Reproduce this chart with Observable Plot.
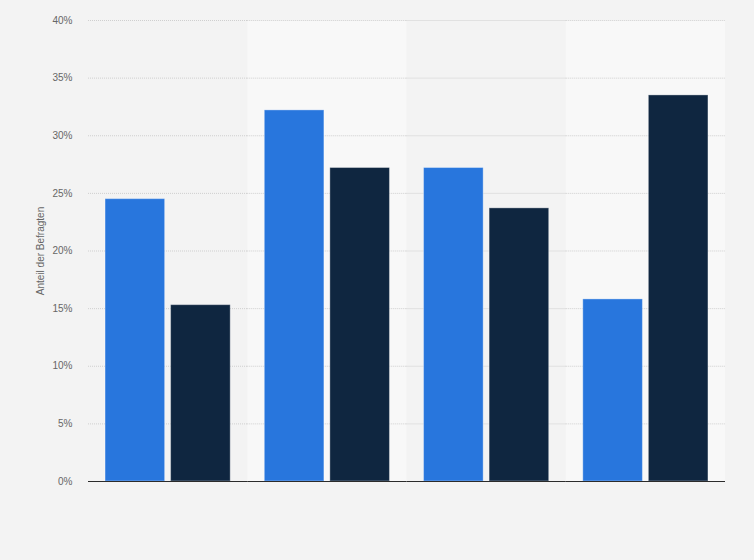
<!DOCTYPE html>
<html>
<head>
<meta charset="utf-8">
<script src="https://cdn.jsdelivr.net/npm/d3@7"></script>
<script src="https://cdn.jsdelivr.net/npm/@observablehq/plot@0.6"></script>
<style>
  html, body { margin: 0; padding: 0; background: #f3f3f3; }
  #chart svg { display: block; }
</style>
</head>
<body>
<div id="chart"></div>
<script>
const groups = ["Gruppe 1", "Gruppe 2", "Gruppe 3", "Gruppe 4"];
const series = ["Reihe A", "Reihe B"];
const valuesA = [24.5, 32.2, 27.2, 15.8];
const valuesB = [15.3, 27.2, 23.7, 33.5];
const yTicks = [0, 5, 10, 15, 20, 25, 30, 35, 40];
const shadedGroups = ["Gruppe 2", "Gruppe 4"];
const colors = ["#2876dd", "#0f2640"];

const data = [];
groups.forEach((g, i) => {
  data.push({group: g, series: series[0], value: valuesA[i]});
  data.push({group: g, series: series[1], value: valuesB[i]});
});
const shade = shadedGroups.map(g => ({group: g}));

const chart = Plot.plot({
  width: 754,
  height: 560,
  marginTop: 20,
  marginBottom: 79,
  marginLeft: 88,
  marginRight: 29,
  style: {background: "#f3f3f3", fontFamily: "'Liberation Sans', Arial, sans-serif", fontSize: "10px"},
  fx: {domain: groups, padding: 0, axis: null, round: false},
  x: {domain: series, paddingInner: 0.0909, paddingOuter: 0.26, axis: null, round: false},
  y: {domain: [0, 40], ticks: yTicks},
  color: {domain: series, range: colors},
  marks: [
    Plot.barY(shade, {fx: "group", y1: () => 0, y2: () => 40, fill: "#f8f8f8"}),
    Plot.ruleY(yTicks.filter(t => t > 0), {stroke: "#cfcfcf", strokeDasharray: "1,1", strokeWidth: 1}),
    Plot.barY(data, {fx: "group", x: "series", y: "value", fill: "series", stroke: "#ffffff", strokeOpacity: 0.35, strokeWidth: 1}),
    Plot.ruleY([0], {stroke: "#2b2b2b", strokeWidth: 1.2}),
    Plot.axisY({
      ticks: yTicks,
      tickSize: 0,
      tickPadding: 16,
      tickFormat: d => d + "%",
      fill: "#666",
      label: "Anteil der Befragten",
      labelAnchor: "center",
      labelOffset: 52,
      labelArrow: "none",
      fontSize: 10
    })
  ]
});
document.getElementById("chart").appendChild(chart);
</script>
</body>
</html>
